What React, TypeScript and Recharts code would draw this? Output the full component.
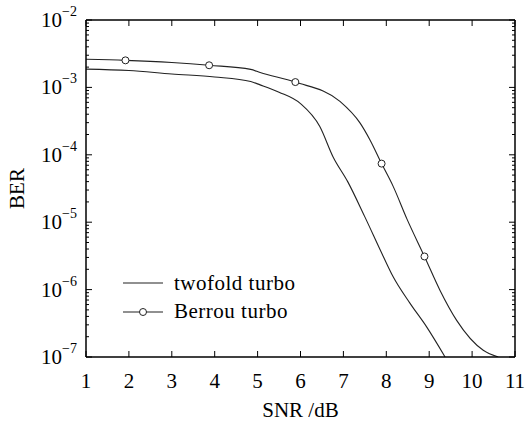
import { LineChart, Line, XAxis, YAxis, Label } from 'recharts'

// SNR (dB) / BER
const twofoldSnr = [1, 2, 3, 4, 4.84, 5.06, 5.5, 6, 6.45, 6.76, 7.1, 7.5, 7.93, 8.16, 8.55, 8.94, 9.37]
const twofoldBer = [
  1.87e-3, 1.78e-3, 1.58e-3, 1.43e-3, 1.22e-3, 1.09e-3, 8.5e-4, 5.75e-4, 2.63e-4, 9.3e-5, 4.0e-5, 1.2e-5,
  3.1e-6, 1.55e-6, 6.3e-7, 2.8e-7, 1.0e-7,
]

const berrouSnr = [1, 1.92, 3, 3.87, 4.84, 5.06, 5.88, 6.92, 7.39, 7.62, 7.89, 8.16, 8.48, 8.89, 9.25, 9.64, 10.26, 10.61]
const berrouBer = [
  2.61e-3, 2.52e-3, 2.34e-3, 2.13e-3, 1.85e-3, 1.66e-3, 1.2e-3, 6.2e-4, 2.95e-4, 1.66e-4, 7.4e-5, 3.4e-5,
  1.12e-5, 3.1e-6, 9.8e-7, 3.5e-7, 1.26e-7, 1.0e-7,
]

const berrouMarkSnr = [1.92, 3.87, 5.88, 7.89, 8.89]
const berrouMarkBer = [2.52e-3, 2.13e-3, 1.2e-3, 7.4e-5, 3.1e-6]

const xTicks = [1, 2, 3, 4, 5, 6, 7, 8, 9, 10, 11]
const yMajor = [1e-7, 1e-6, 1e-5, 1e-4, 1e-3, 1e-2]
const yMinorSteps = [2, 3, 4, 5, 6, 7, 8, 9]

const twofold = twofoldSnr.map((snr, i) => ({ snr, ber: twofoldBer[i] }))
const berrou = berrouSnr.map((snr, i) => ({ snr, ber: berrouBer[i] }))
const berrouMarks = berrouMarkSnr.map((snr, i) => ({ snr, ber: berrouMarkBer[i] }))
const yTicks = [...yMajor, ...yMajor.slice(0, -1).flatMap((d) => yMinorSteps.map((m) => m * d))]

const FONT = 'Liberation Serif'
const INK = '#222'

const isMajor = (v: number) => {
  const l = Math.log10(v)
  return Math.abs(l - Math.round(l)) < 1e-6
}

function LeftTick({ x, y, payload }: any) {
  const v = payload.value
  const major = isMajor(v)
  const exp = Math.round(Math.log10(v))
  return (
    <g>
      <line x1={x} x2={x + (major ? 6 : 3)} y1={y} y2={y} stroke="#000" strokeWidth={1} />
      {major && (
        <text x={x - 9} y={y + 7} textAnchor="end" fontFamily={FONT} fontSize={21} fill="#000">
          10
          <tspan dy={-11} fontSize={14}>
            {'\u2212' + -exp}
          </tspan>
        </text>
      )}
    </g>
  )
}

function RightTick({ x, y, payload }: any) {
  const major = isMajor(payload.value)
  return <line x1={x} x2={x - (major ? 6 : 3)} y1={y} y2={y} stroke="#000" strokeWidth={1} />
}

function BottomTick({ x, y, payload }: any) {
  return (
    <g>
      <line x1={x} x2={x} y1={y} y2={y - 6} stroke="#000" strokeWidth={1} />
      <text x={x} y={y + 31} textAnchor="middle" fontFamily={FONT} fontSize={21} fill="#000">
        {payload.value}
      </text>
    </g>
  )
}

function TopTick({ x, y }: any) {
  return <line x1={x} x2={x} y1={y} y2={y + 6} stroke="#000" strokeWidth={1} />
}

function BerLabel({ viewBox }: any) {
  const cx = viewBox.x + 17
  const cy = viewBox.y + viewBox.height / 2
  return (
    <text
      x={cx}
      y={cy}
      transform={`rotate(-90, ${cx}, ${cy})`}
      textAnchor="middle"
      dominantBaseline="central"
      fontFamily={FONT}
      fontSize={21}
      fill="#000"
    >
      BER
    </text>
  )
}

function LegendBox() {
  const row = { display: 'flex', alignItems: 'center', height: 28.5 }
  const text = { fontFamily: FONT, fontSize: 21, color: '#000', marginLeft: 10, letterSpacing: 0.5 }
  return (
    <div style={{ position: 'absolute', left: 122, top: 269, width: 230 }}>
      <div style={row}>
        <svg width={42} height={28}>
          <line x1={1} x2={41} y1={14} y2={14} stroke={INK} strokeWidth={1.2} />
        </svg>
        <span style={text}>twofold turbo</span>
      </div>
      <div style={row}>
        <svg width={42} height={28}>
          <line x1={1} x2={41} y1={14} y2={14} stroke={INK} strokeWidth={1.2} />
          <circle cx={21} cy={14} r={3.5} fill="#fff" stroke={INK} strokeWidth={1} />
        </svg>
        <span style={text}>Berrou turbo</span>
      </div>
    </div>
  )
}

export default function App() {
  return (
    <div
      style={{ position: 'absolute', left: 0, top: 0, width: 527, height: 421, background: '#fff', fontFamily: FONT }}
    >
      <LineChart width={527} height={421} margin={{ top: 0, right: 0, bottom: 0, left: 0 }}>
        <XAxis
          dataKey="snr"
          type="number"
          domain={[1, 11]}
          ticks={xTicks}
          interval={0}
          allowDataOverflow
          height={64}
          tickSize={0}
          tickMargin={0}
          tickLine={false}
          axisLine={{ stroke: '#000', strokeWidth: 1.5 }}
          tick={<BottomTick />}
        >
          <Label value="SNR /dB" position="insideBottom" offset={4} fontFamily={FONT} fontSize={21} fill="#000" />
        </XAxis>
        <XAxis
          xAxisId="top"
          orientation="top"
          dataKey="snr"
          type="number"
          domain={[1, 11]}
          ticks={xTicks}
          interval={0}
          allowDataOverflow
          height={20}
          tickSize={0}
          tickMargin={0}
          tickLine={false}
          axisLine={{ stroke: '#000', strokeWidth: 1.5 }}
          tick={<TopTick />}
        />
        <YAxis
          type="number"
          scale="log"
          domain={[1e-7, 1e-2]}
          ticks={yTicks}
          interval={0}
          allowDataOverflow
          width={86}
          tickSize={0}
          tickMargin={0}
          tickLine={false}
          axisLine={{ stroke: '#000', strokeWidth: 1.5 }}
          tick={<LeftTick />}
        >
          <Label content={<BerLabel />} />
        </YAxis>
        <YAxis
          yAxisId="right"
          orientation="right"
          type="number"
          scale="log"
          domain={[1e-7, 1e-2]}
          ticks={yTicks}
          interval={0}
          allowDataOverflow
          width={12}
          tickSize={0}
          tickMargin={0}
          tickLine={false}
          axisLine={{ stroke: '#000', strokeWidth: 1.5 }}
          tick={<RightTick />}
        />
        <Line data={twofold} dataKey="ber" type="monotone" stroke={INK} strokeWidth={1.1} dot={false} isAnimationActive={false} />
        <Line data={berrou} dataKey="ber" type="monotone" stroke={INK} strokeWidth={1.1} dot={false} isAnimationActive={false} />
        <Line
          data={berrouMarks}
          dataKey="ber"
          stroke="none"
          dot={{ r: 3.5, fill: '#fff', stroke: INK, strokeWidth: 1 }}
          isAnimationActive={false}
        />
      </LineChart>
      <LegendBox />
    </div>
  )
}
